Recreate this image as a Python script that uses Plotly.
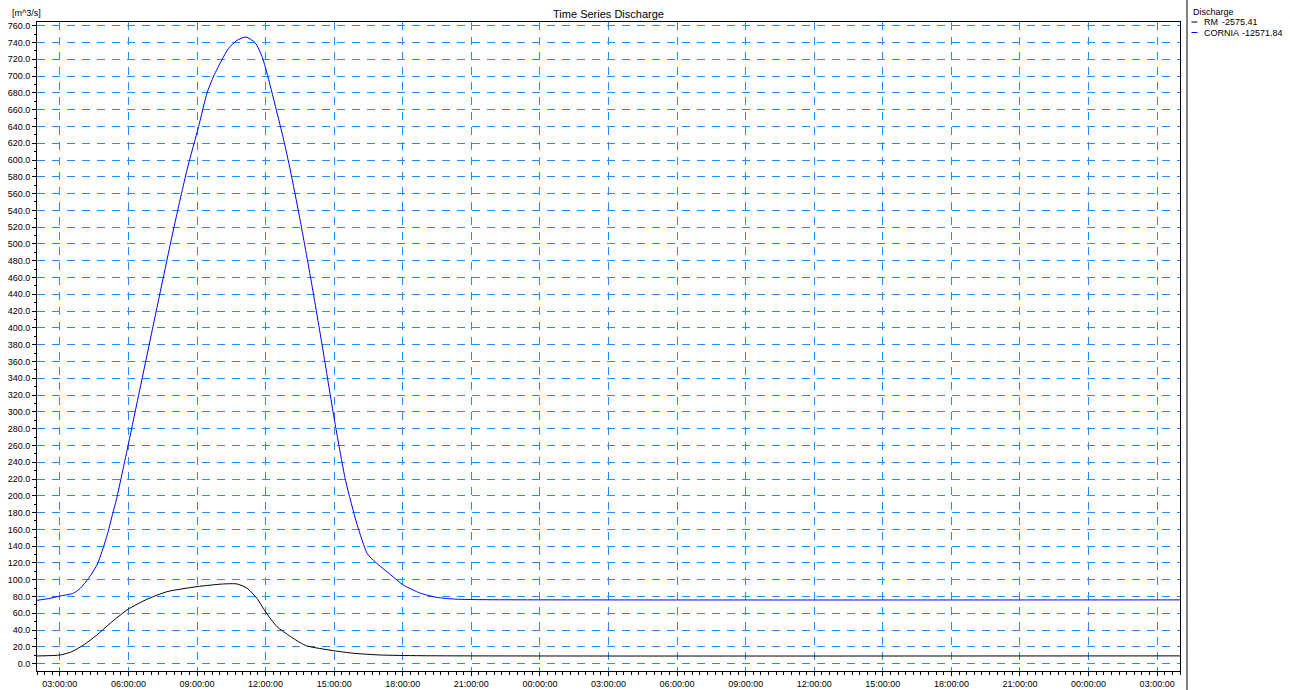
import pandas as pd
import plotly.graph_objects as go

# ---- data (hours counted from 00:00 of the first day) ----
cornia_hours = [2.0, 2.5, 3.0, 3.6, 3.9, 4.25, 4.62, 4.84, 5.09, 5.35, 5.47, 6.0, 6.5, 7.0, 7.5, 8.0,
                8.56, 9.07, 9.44, 9.73, 10.09, 10.38, 10.75, 11.14, 11.55, 11.84, 12.06, 12.43, 12.79,
                13.08, 13.5, 14.0, 14.5, 15.0, 15.5, 16.0, 16.45, 16.8, 17.47, 18.01, 18.77, 19.5,
                20.22, 21.32, 52.0]
cornia_values = [75.5, 77.5, 80.5, 84.0, 90.0, 101.5, 117.5, 133.5, 155.0, 183.0, 195.0, 262.0, 327.0,
                 392.0, 457.0, 521.0, 588.0, 640.0, 680.0, 700.0, 719.5, 733.0, 742.5, 746.5, 739.5,
                 723.5, 703.5, 664.0, 624.0, 588.0, 530.0, 455.0, 375.0, 292.0, 218.0, 166.0, 131.0,
                 121.0, 106.0, 94.0, 84.0, 79.0, 77.0, 76.3, 76.0]

rm_hours = [2.0, 3.02, 3.52, 4.04, 4.62, 5.2, 5.98, 6.81, 7.69, 9.0, 10.16, 10.75, 11.19, 11.62, 11.99,
            12.5, 13.08, 13.52, 13.81, 14.97, 15.85, 17.0, 18.84, 52.0]
rm_values = [9.2, 10.4, 14.3, 22.3, 34.2, 48.1, 64.8, 76.7, 85.8, 91.8, 95.0, 95.0, 89.9, 77.9, 62.0,
             44.1, 32.5, 25.0, 21.1, 15.5, 12.4, 10.4, 9.5, 9.3]

series_names = ["RM", "CORNIA"]
series_totals = ["-2575.41", "-12571.84"]
series_colors = ["#000000", "#0000FF"]

chart_title = "Time Series Discharge"
y_unit = "[m^3/s]"
legend_title = "Discharge"

day0 = pd.Timestamp("2021-01-01 00:00:00")


def to_time(hours):
    return [day0 + pd.Timedelta(hours=h) for h in hours]


x_start = day0 + pd.Timedelta(hours=2)
x_end = day0 + pd.Timedelta(hours=52)

fig = go.Figure()
fig.add_trace(go.Scatter(x=to_time(rm_hours), y=rm_values, mode="lines", name=series_names[0],
                         line=dict(color=series_colors[0], width=1, shape="spline", smoothing=0.6)))
fig.add_trace(go.Scatter(x=to_time(cornia_hours), y=cornia_values, mode="lines", name=series_names[1],
                         line=dict(color=series_colors[1], width=1, shape="spline", smoothing=0.6)))

FONT = "Liberation Sans, Arial, sans-serif"
GRID = "#1E90FF"

L, R, T, B = 37, 110, 22, 19
W, H = 1290, 690
PW, PH = W - L - R, H - T - B


def px_x(px):
    return (px - L) / PW


def px_y(py):
    return (H - B - py) / PH


fig.update_layout(
    width=W, height=H,
    margin=dict(l=L, r=R, t=T, b=B, autoexpand=False),
    paper_bgcolor="white", plot_bgcolor="white",
    showlegend=False,
    font=dict(family=FONT, size=9, color="#000000"),
    title=dict(text=chart_title, x=0.5, xref="paper", xanchor="center",
               y=1 - 14.5 / H, yref="container", yanchor="middle",
               font=dict(family=FONT, size=11, color="#000000")),
)

fig.update_xaxes(
    type="date", range=[x_start, x_end],
    tick0=day0, dtick=3 * 3600 * 1000, tickformat="%H:%M:%S",
    ticks="outside", ticklen=4, tickcolor="black", tickwidth=1,
    tickfont=dict(family=FONT, size=9, color="#000000"),
    showline=True, linecolor="black", linewidth=1, mirror=True,
    showgrid=True, gridcolor=GRID, gridwidth=1, griddash="8px,7px",
    zeroline=False, automargin=False,
    minor=dict(dtick=20 * 60 * 1000, tick0=day0, ticks="outside", ticklen=3,
               tickcolor="black", showgrid=False),
)
fig.update_yaxes(
    range=[-8.7, 764.4], tick0=0, dtick=20, tickformat=".1f",
    ticks="outside", ticklen=4, tickcolor="black", tickwidth=1,
    tickfont=dict(family=FONT, size=9, color="#000000"),
    showline=True, linecolor="black", linewidth=1, mirror=True,
    showgrid=True, gridcolor=GRID, gridwidth=1, griddash="8px,7px",
    zeroline=False, automargin=False,
    minor=dict(dtick=10, tick0=0, ticks="outside", ticklen=2,
               tickcolor="black", showgrid=False),
)

# unit label above the y axis
fig.add_annotation(text=y_unit, xref="paper", yref="paper", x=px_x(10), y=px_y(12.5),
                   xanchor="left", yanchor="middle", showarrow=False,
                   font=dict(family=FONT, size=9, color="#000000"))

# legend panel (right side)
fig.add_shape(type="line", xref="paper", yref="paper",
              x0=px_x(1187), x1=px_x(1187), y0=px_y(H), y1=px_y(0),
              line=dict(color="black", width=1))
fig.add_annotation(text=legend_title, xref="paper", yref="paper", x=px_x(1191), y=px_y(11.5),
                   xanchor="left", yanchor="middle", showarrow=False,
                   font=dict(family=FONT, size=9, color="#000000"))
rows_y = [22, 32.5]
name_x = [1201.5, 1201.5]
total_x = [1219.5, 1240]
for i in range(len(series_names)):
    yy = px_y(rows_y[i])
    fig.add_shape(type="line", xref="paper", yref="paper",
                  x0=px_x(1191.5), x1=px_x(1197.5), y0=yy, y1=yy,
                  line=dict(color=series_colors[i], width=1))
    fig.add_annotation(text=series_names[i], xref="paper", yref="paper", x=px_x(name_x[i]), y=yy,
                       xanchor="left", yanchor="middle", showarrow=False,
                       font=dict(family=FONT, size=9, color="#000000"))
    fig.add_annotation(text=series_totals[i], xref="paper", yref="paper", x=px_x(total_x[i]), y=yy,
                       xanchor="left", yanchor="middle", showarrow=False,
                       font=dict(family=FONT, size=9, color="#000000"))

fig.write_html("out.html", config={"displayModeBar": False},
               post_script="document.body.style.margin='0';document.body.style.overflow='hidden';")
